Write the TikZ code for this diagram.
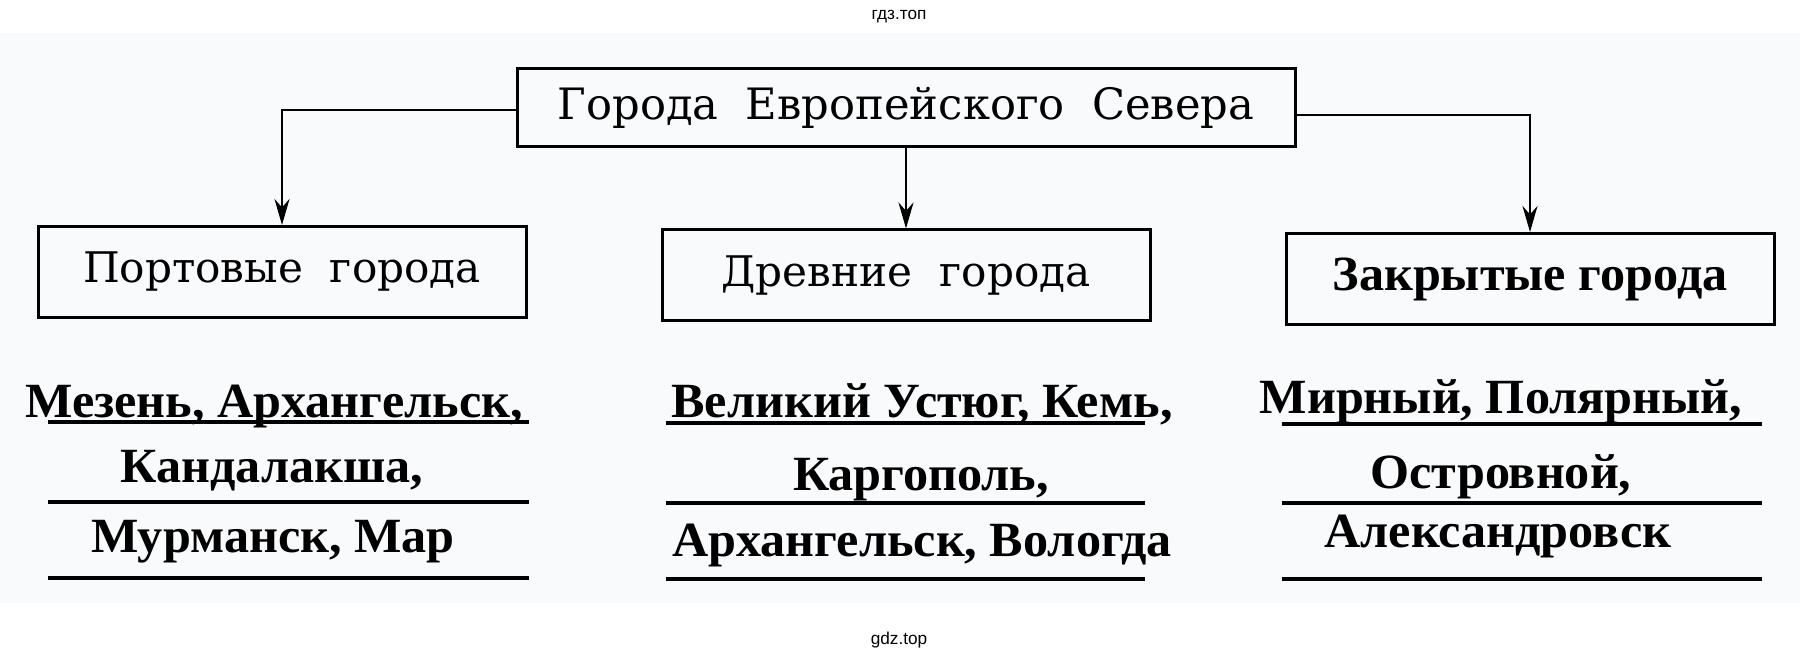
\documentclass[tikz,border=0pt]{standalone}
\usepackage{fontspec}
\setmainfont{Liberation Serif}
\newfontfamily\boxfont{DejaVu Serif}
\newfontfamily\listfont[FakeStretch=1.02]{Liberation Serif}
\newfontfamily\markfont{Liberation Sans}
\usepackage{tikz}
\usetikzlibrary{positioning,arrows.meta}
\definecolor{paper}{RGB}{249,250,252}
\newcommand{\cityline}[1]{{\listfont\bfseries\fontsize{14pt}{16pt}\selectfont #1}}

\tikzset{
  topbox/.style={draw, line width=0.3mm, inner sep=0pt, minimum width=77.8mm,
    minimum height=7.8mm, font=\boxfont\fontsize{12.3pt}{14pt}\selectfont},
  groupbox/.style={draw, line width=0.3mm, inner sep=0pt, minimum width=48.8mm,
    minimum height=9.1mm, font=\boxfont\fontsize{12pt}{14pt}\selectfont},
  link/.style={line width=0.25mm, -{Stealth[length=2.6mm,width=1.5mm]}},
  rule/.style={line width=0.4mm},
  city/.style={anchor=base, inner sep=0pt},
  sitemark/.style={font=\markfont\fontsize{4.9pt}{6pt}\selectfont, anchor=base}
}

\begin{document}
\begin{tikzpicture}[x=0.1mm,y=-0.1mm]
  \useasboundingbox (0,0) rectangle (1800,661);
  \fill[paper] (0,33) rectangle (1800,603);

  % Define nodes
  \node[topbox]                                   (north)   at (906,108) {Города~~Европейского~~Севера};
  \node[groupbox, below=8mm of north]               (ancient) {Древние~~города};
  \node[groupbox, left=13.3mm of ancient, yshift=0.35mm]  (ports)   {Портовые~~города};
  \node[groupbox, right=13.3mm of ancient, yshift=-0.35mm] (closed)
    {\cityline{Закрытые города}};

  % Connect the nodes
  \draw[link] ([yshift=-0.2mm]north.west) -| (ports.north);
  \draw[link] (north.south) -- (ancient.north);
  \draw[link] ([yshift=-0.7mm]north.east) -| (closed.north);

  % Cities
  \node[city] (p1) at (274,417) {\cityline{Мезень, Архангельск,}};
  \node[city] (p2) at (272,482) {\cityline{Кандалакша,}};
  \node[city] (p3) at (273,552) {\cityline{Мурманск, Мар}};
  \node[city] (a1) at (922,417) {\cityline{Великий Устюг, Кемь,}};
  \node[city] (a2) at (921,491) {\cityline{Каргополь,}};
  \node[city] (a3) at (922,556) {\cityline{Архангельск, Вологда}};
  \node[city] (c1) at (1501,413) {\cityline{Мирный, Полярный,}};
  \node[city] (c2) at (1501,489) {\cityline{Островной,}};
  \node[city] (c3) at (1498,547) {\cityline{Александровск}};

  % Rules
  \draw[rule] (48,422) -- (529,422);
  \draw[rule] (48,502) -- (529,502);
  \draw[rule] (48,578) -- (529,578);
  \draw[rule] (666,423) -- (1145,423);
  \draw[rule] (666,503) -- (1145,503);
  \draw[rule] (666,579) -- (1145,579);
  \draw[rule] (1282,424) -- (1762,424);
  \draw[rule] (1282,503) -- (1762,503);
  \draw[rule] (1282,579) -- (1762,579);

  % Marks
  \node[sitemark] (mtop) at (899,20) {гдз.топ};
  \node[sitemark] (mbot) at (899,644) {gdz.top};
\end{tikzpicture}
\end{document}
